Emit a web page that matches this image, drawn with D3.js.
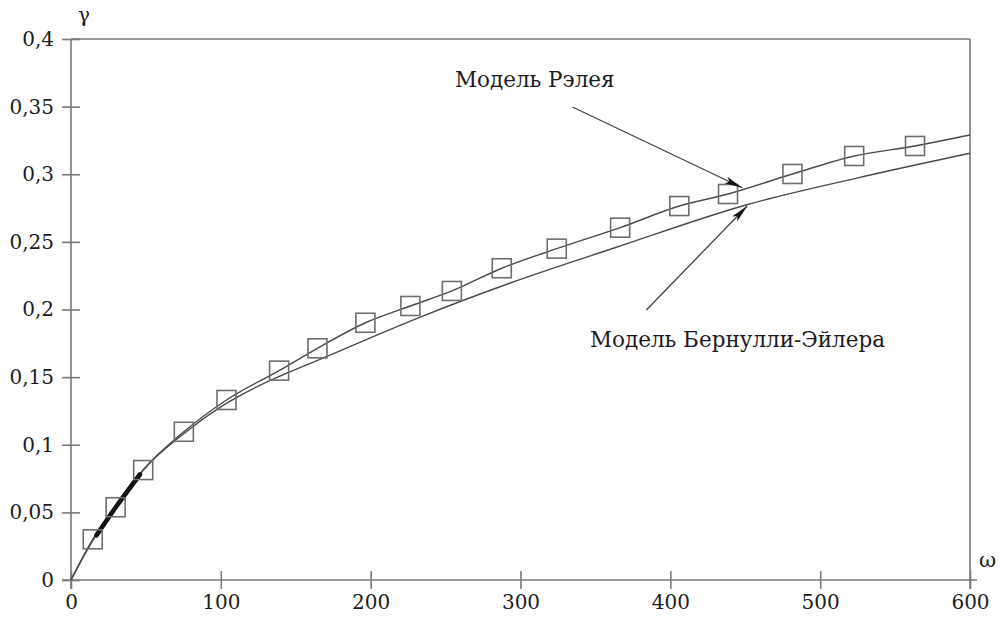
<!DOCTYPE html>
<html>
<head>
<meta charset="utf-8">
<script src="https://cdn.jsdelivr.net/npm/d3@7"></script>
<style>
  html, body { margin: 0; padding: 0; background: #fff; }
  svg { display: block; }
  svg text { font-family: 'DejaVu Serif', serif; fill: #1b1b24; }
</style>
</head>
<body>
<svg id="chart" width="1001" height="619"></svg>
<script>
// Rayleigh model: marker points (ω, γ)
const rayleighOmega = [14.5, 29.8, 48.2, 75.3, 103.8, 138.9, 164.5, 196.5, 226.5, 254.2, 287.5, 324.2, 366.5, 406, 438.5, 481.5, 522.7, 563.3];
const rayleighGamma = [0.0301, 0.0538, 0.0813, 0.1096, 0.1331, 0.1548, 0.1713, 0.1902, 0.2026, 0.2137, 0.2305, 0.2450, 0.2605, 0.2765, 0.2854, 0.3002, 0.3135, 0.3209];
// Rayleigh curve end point at the right edge
const rayleighEnd = [600, 0.329];

// Bernoulli–Euler model curve
const bernoulliOmega = [0, 15, 30, 48, 75, 100, 120, 170.5, 232.7, 292.7, 364, 450.5, 523.8, 600];
const bernoulliGamma = [0, 0.030, 0.054, 0.081, 0.108, 0.128, 0.1405, 0.1651, 0.1942, 0.2194, 0.246, 0.2773, 0.2970, 0.3155];

// Heavy overlap segment near the origin
const heavyOmega = [17, 30, 46];
const heavyGamma = [0.033, 0.054, 0.078];

// Axis ticks
const xTicks = [0, 100, 200, 300, 400, 500, 600];
const yTicks = [0, 0.05, 0.1, 0.15, 0.2, 0.25, 0.3, 0.35, 0.4];
const yTickLabels = ["0", "0,05", "0,1", "0,15", "0,2", "0,25", "0,3", "0,35", "0,4"];

// Annotations: label text, arrow tail and tip (data units)
const annLabels = ["Модель Рэлея", "Модель Бернулли-Эйлера"];
const annTail = [[334.7, 0.3497], [384, 0.1996]];
const annTip = [[448, 0.2900], [451.3, 0.2765]];

const svg = d3.select("#chart");
const margin = { left: 71, right: 31, top: 39, bottom: 39 };
const W = 1001, H = 619;

const x = d3.scaleLinear().domain([0, 600]).range([margin.left, W - margin.right]);
const y = d3.scaleLinear().domain([0, 0.4]).range([H - margin.bottom, margin.top]);

const axisColor = "#7a7a7a";
const tickLen = 9;

// frame: top and right edges
svg.append("line").attr("x1", x(0)).attr("x2", x(600)).attr("y1", y(0.4)).attr("y2", y(0.4))
  .attr("stroke", axisColor).attr("stroke-width", 1.6);
svg.append("line").attr("x1", x(600)).attr("x2", x(600)).attr("y1", y(0.4)).attr("y2", y(0) + tickLen)
  .attr("stroke", axisColor).attr("stroke-width", 1.6);

// y axis
const yAxis = d3.axisLeft(y).tickValues(yTicks).tickSize(0).tickFormat((d, i) => yTickLabels[i]).tickPadding(17);
const gy = svg.append("g").attr("transform", `translate(${x(0)},0)`).call(yAxis)
  .attr("font-family", null).attr("font-size", 20);
gy.select(".domain").attr("stroke", axisColor).attr("stroke-width", 1.6)
  .attr("d", `M0,${y(0.4)}V${y(0) + tickLen}`);
gy.selectAll(".tick line").attr("x1", -tickLen).attr("x2", tickLen).attr("stroke", axisColor).attr("stroke-width", 1.6);

// x axis
const xAxis = d3.axisBottom(x).tickValues(xTicks).tickSize(0).tickFormat(d3.format("d")).tickPadding(15);
const gx = svg.append("g").attr("transform", `translate(0,${y(0)})`).call(xAxis)
  .attr("font-family", null).attr("font-size", 20);
gx.select(".domain").attr("stroke", axisColor).attr("stroke-width", 1.6)
  .attr("d", `M${x(0) - tickLen},0H${x(600) + 7}`);
gx.selectAll(".tick line").attr("y1", -tickLen).attr("y2", tickLen).attr("stroke", axisColor).attr("stroke-width", 1.6);
gx.selectAll(".tick text").attr("dy", "0.72em");

// axis names
svg.append("text").attr("x", x(0) + 7).attr("y", y(0.4) - 17).attr("font-size", 20).text("γ");
svg.append("text").attr("x", x(600) + 9).attr("y", y(0) - 13).attr("font-size", 21).text("ω");

// curves
const line = d3.line().x(d => x(d[0])).y(d => y(d[1])).curve(d3.curveMonotoneX);

const bernoulli = bernoulliOmega.map((w, i) => [w, bernoulliGamma[i]]);
svg.append("path").datum(bernoulli).attr("d", line)
  .attr("fill", "none").attr("stroke", "#4a4a4a").attr("stroke-width", 1.4);

const rayleighPts = rayleighOmega.map((w, i) => [w, rayleighGamma[i]]);
svg.append("path").datum([[0, 0], ...rayleighPts, rayleighEnd]).attr("d", line)
  .attr("fill", "none").attr("stroke", "#4a4a4a").attr("stroke-width", 1.4);

const heavy = heavyOmega.map((w, i) => [w, heavyGamma[i]]);
svg.append("path").datum(heavy).attr("d", line)
  .attr("fill", "none").attr("stroke", "#111").attr("stroke-width", 4.6).attr("stroke-linecap", "round");

// square markers
const sq = 19;
svg.append("g").selectAll("rect").data(rayleighPts).join("rect")
  .attr("x", d => x(d[0]) - sq / 2).attr("y", d => y(d[1]) - sq / 2)
  .attr("width", sq).attr("height", sq)
  .attr("fill", "none").attr("stroke", "#6e6e6e").attr("stroke-width", 1.6);

// annotation arrows
const defs = svg.append("defs");
defs.append("marker").attr("id", "arrowhead").attr("viewBox", "0 0 18 8")
  .attr("refX", 18).attr("refY", 4).attr("markerWidth", 18).attr("markerHeight", 8)
  .attr("markerUnits", "userSpaceOnUse").attr("orient", "auto")
  .append("path").attr("d", "M0,0.5 L18,4 L0,7.5 L4,4 Z").attr("fill", "#111");

annTail.forEach((t, i) => {
  svg.append("line")
    .attr("x1", x(t[0])).attr("y1", y(t[1]))
    .attr("x2", x(annTip[i][0])).attr("y2", y(annTip[i][1]))
    .attr("stroke", "#444").attr("stroke-width", 1.3)
    .attr("marker-end", "url(#arrowhead)");
});

// annotation labels
svg.append("text").attr("x", 455).attr("y", 87).attr("font-size", 21.5).text(annLabels[0]);
svg.append("text").attr("x", 590).attr("y", 347).attr("font-size", 21.5).text(annLabels[1]);
</script>
</body>
</html>
